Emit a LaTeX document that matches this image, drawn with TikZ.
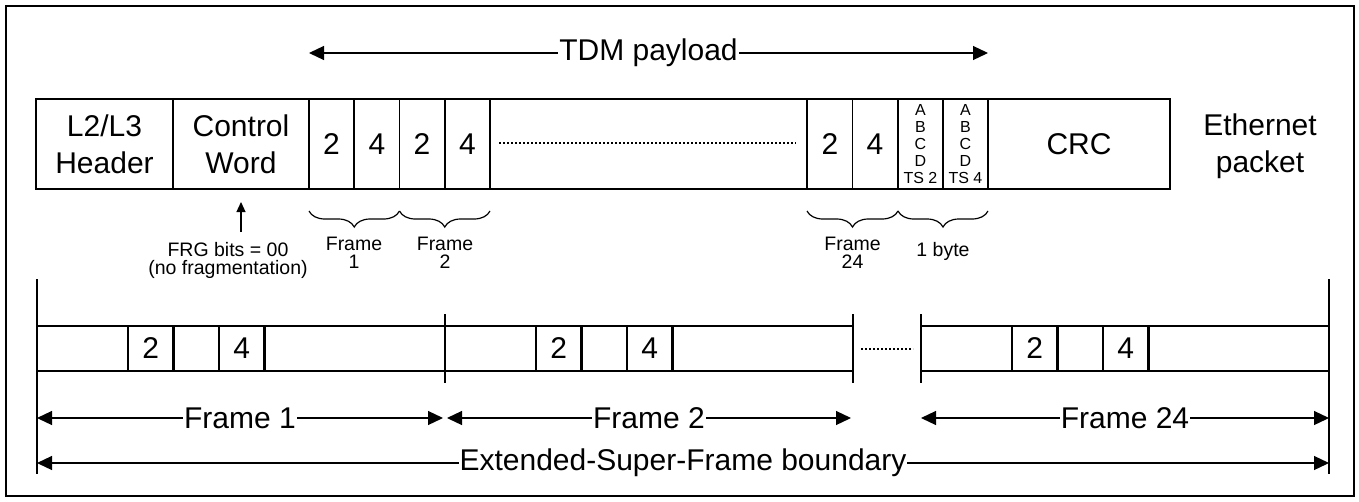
\documentclass[tikz,border=0pt]{standalone}
\usepackage{fontspec}
\setmainfont{Liberation Sans}
\usetikzlibrary{arrows.meta,decorations.pathreplacing}

\tikzset{
  thinline/.style={line width=1.2pt},
  thickline/.style={line width=2.2pt},
  bigtext/.style={font=\fontsize{30}{37}\selectfont, align=center, inner sep=0pt},
  smalltext/.style={font=\fontsize{19.5}{18}\selectfont, align=center, inner sep=0pt},
  tinytext/.style={font=\fontsize{16}{17}\selectfont, align=center, inner sep=0pt},
  span/.style={line width=1.2pt, {Triangle[length=15pt,width=14pt]}-{Triangle[length=15pt,width=14pt]}},
  dots/.style={line width=1.2pt, dash pattern=on 2pt off 2pt},
  curly/.style={line width=1.2pt, decorate, decoration={brace,amplitude=16pt}},
  gaplabel/.style={bigtext, fill=white, inner xsep=1pt}
}

\begin{document}
\begin{tikzpicture}[x=1pt,y=-1pt]
\useasboundingbox (0,0) rectangle (1359,501);
\draw[line width=2pt] (5.5,5.5) rectangle (1353.5,495.5);
% TDM payload span
\coordinate (tdmL) at (309,53);
\coordinate (tdmR) at (988,53);
\draw[span] (tdmL) -- (tdmR) node[midway,gaplabel] (tdm) {TDM payload};
% Ethernet packet
\draw[thickline] (36,99) rectangle (1170,189);
\foreach \x in {173,309,988} \draw[thickline] (\x,99) -- (\x,189);
\foreach \x in {354,399.5,445,490,807,852.5,898,943} \draw[thinline] (\x,99) -- (\x,189);
\node[bigtext] (hdr) at (104.5,144) {L2/L3\\Header};
\node[bigtext] (cw) at (241,144) {Control\\Word};
\foreach \x/\t [count=\i] in {331.5/2,377/4,422/2,467.5/4,830/2,875/4}
  \node[bigtext] (ts\i) at (\x,144) {\t};
\draw[dots] (499,143) -- (796,143);
\node[tinytext] (abcd2) at (920.5,144) {A\\B\\C\\D\\TS 2};
\node[tinytext] (abcd4) at (965.5,144) {A\\B\\C\\D\\TS 4};
\node[bigtext] (crc) at (1079,144) {CRC};
\node[bigtext] (eth) at (1260,146) {Ethernet\\packet};
% braces under the packet
\draw[curly] (399.5,211) -- (309,211);
\draw[curly] (490,211) -- (399.5,211);
\draw[curly] (898,211) -- (807,211);
\draw[curly] (988,211) -- (898,211);
\node[smalltext] (fr1) at (354,253) {Frame\\1};
\node[smalltext] (fr2) at (445,253) {Frame\\2};
\node[smalltext] (fr24) at (852.5,253) {Frame\\24};
\node[smalltext] (byte) at (943,251) {1 byte};
\node[smalltext] (frg) at (228,260) {FRG bits = 00\\(no fragmentation)};
\coordinate (frgtip) at (241,202);
\draw[thinline,-{Triangle[length=10pt,width=9pt]}] (241,232) -- (frgtip);
% Extended super frame
\draw[thickline] (37,279) -- (37,474);
\draw[thickline] (1329,279) -- (1329,474);
\draw[thickline] (37,326) -- (853,326);
\draw[line width=1.8pt] (37,371) -- (853,371);
\draw[thickline] (921,326) -- (1329,326);
\draw[line width=1.8pt] (921,371) -- (1329,371);
\foreach \x in {445,853,921} \draw[thickline] (\x,314) -- (\x,383);
\foreach \f/\n in {37/a,445/b,921/c} {
  \draw[thickline] (\f+91,326) rectangle (\f+136.5,371);
  \draw[thickline] (\f+182,326) rectangle (\f+227.5,371);
  \node[bigtext] (two\n) at (\f+113.75,348.5) {2};
  \node[bigtext] (four\n) at (\f+204.75,348.5) {4};
}
\draw[dots] (861,349) -- (913,349);
\coordinate (f1L) at (37,418);
\coordinate (f1R) at (443,418);
\coordinate (f2L) at (447,418);
\coordinate (f2R) at (851,418);
\coordinate (f24L) at (921,418);
\coordinate (f24R) at (1329,418);
\draw[span] (f1L) -- (f1R) node[midway,gaplabel] (lf1) {Frame 1};
\draw[span] (f2L) -- (f2R) node[midway,gaplabel] (lf2) {Frame 2};
\draw[span] (f24L) -- (f24R) node[midway,gaplabel] (lf24) {Frame 24};
\coordinate (esfL) at (37,463);
\coordinate (esfR) at (1329,463);
\draw[span] (esfL) -- (esfR) node[midway,gaplabel] (esf) {Extended-Super-Frame boundary};
\end{tikzpicture}
\end{document}
